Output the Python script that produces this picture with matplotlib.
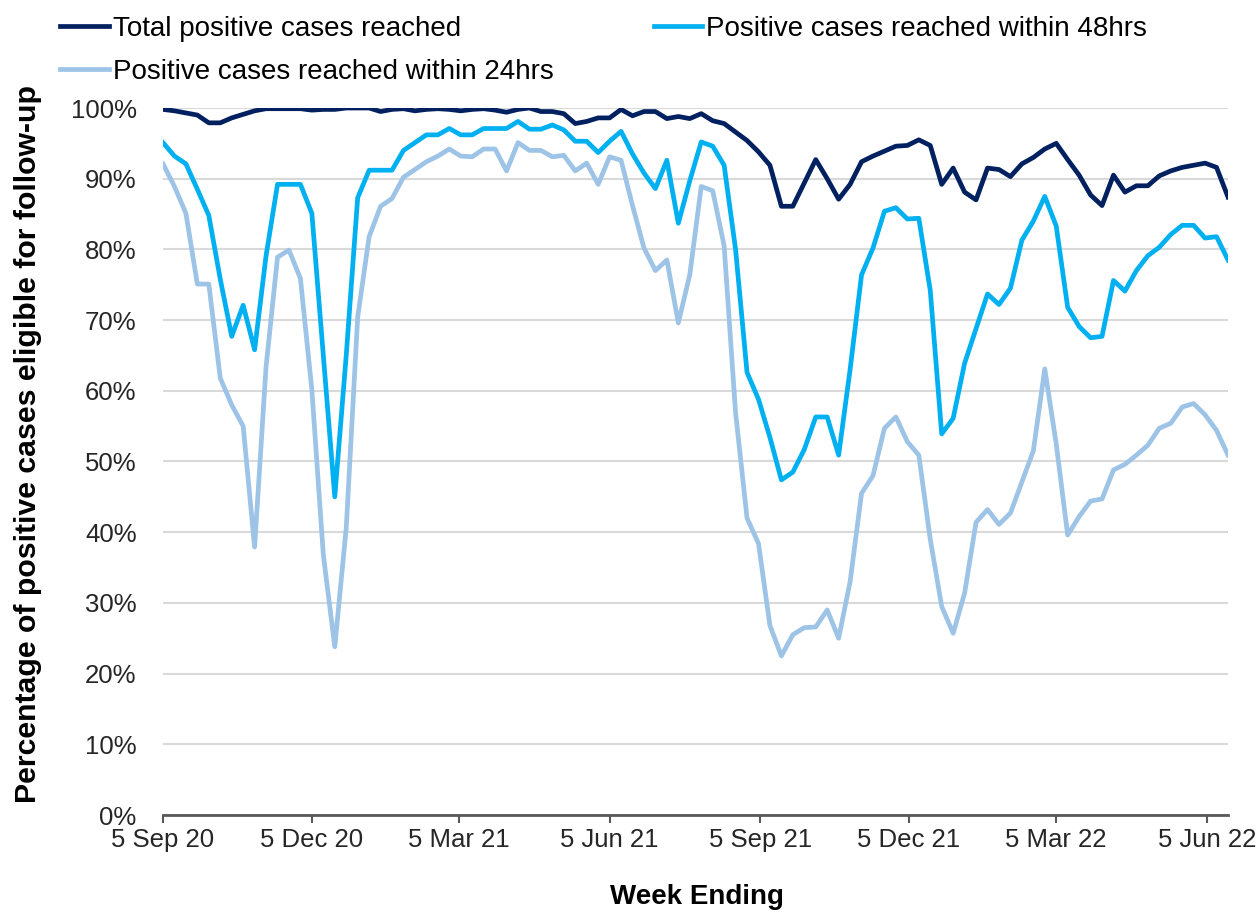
import matplotlib
matplotlib.use("Agg")
import matplotlib.pyplot as plt
import pandas as pd

plt.rcParams['font.family'] = ['Liberation Sans', 'DejaVu Sans']

# Weekly data, week ending 5 Sep 2020 onwards (percent)
weeks = pd.date_range('2020-09-05', periods=94, freq='7D')

total_reached = [
    99.8, 99.6, 99.3, 99.0, 97.9, 97.9, 98.6, 99.1, 99.6, 99.9,
    99.9, 99.9, 99.9, 99.7, 99.8, 99.8, 100, 100, 100, 99.5,
    99.8, 99.9, 99.6, 99.8, 99.9, 99.8, 99.6, 99.8, 99.9, 99.7,
    99.4, 99.8, 100, 99.5, 99.5, 99.2, 97.8, 98.1, 98.6, 98.6,
    99.8, 98.9, 99.5, 99.5, 98.5, 98.8, 98.5, 99.2, 98.2, 97.8,
    96.6, 95.4, 93.8, 91.9, 86.1, 86.1, 89.4, 92.7, 90.0, 87.1,
    89.2, 92.4, 93.2, 93.9, 94.6, 94.7, 95.5, 94.7, 89.2, 91.5,
    88.1, 87.0, 91.5, 91.3, 90.3, 92.1, 93.0, 94.2, 95.0, 92.7,
    90.5, 87.7, 86.2, 90.5, 88.1, 89.0, 89.0, 90.4, 91.1, 91.6,
    91.9, 92.2, 91.6, 87.4]

within_48 = [
    95.1, 93.2, 92.1, 88.5, 84.8, 75.8, 67.7, 72.1, 65.8, 79.1,
    89.2, 89.2, 89.2, 85.1, 65.0, 45.0, 65.0, 87.3, 91.2, 91.2,
    91.2, 94.0, 95.1, 96.2, 96.2, 97.1, 96.2, 96.2, 97.1, 97.1,
    97.1, 98.1, 97.0, 97.0, 97.6, 96.9, 95.3, 95.3, 93.7, 95.3,
    96.7, 93.5, 90.8, 88.6, 92.6, 83.7, 89.7, 95.2, 94.6, 91.9,
    80.0, 62.6, 58.8, 53.4, 47.4, 48.5, 51.7, 56.3, 56.3, 50.9,
    63.0, 76.4, 80.2, 85.4, 85.9, 84.3, 84.4, 74.2, 53.9, 56.1,
    63.9, 68.8, 73.7, 72.2, 74.5, 81.3, 84.0, 87.5, 83.3, 71.8,
    69.1, 67.5, 67.7, 75.6, 74.1, 77.0, 79.1, 80.3, 82.1, 83.4,
    83.4, 81.6, 81.8, 78.5]

within_24 = [
    92.1, 88.9, 85.1, 75.1, 75.1, 61.8, 58.0, 55.0, 37.9, 63.4,
    78.9, 79.9, 75.9, 60.1, 36.8, 23.8, 40.6, 70.4, 81.8, 86.1,
    87.2, 90.2, 91.3, 92.4, 93.2, 94.2, 93.2, 93.1, 94.2, 94.2,
    91.1, 95.1, 94.0, 94.0, 93.1, 93.3, 91.1, 92.2, 89.2, 93.1,
    92.6, 86.2, 80.2, 77.0, 78.5, 69.6, 76.4, 88.9, 88.3, 80.5,
    56.9, 42.0, 38.4, 26.8, 22.5, 25.5, 26.5, 26.6, 29.0, 25.0,
    33.0, 45.5, 48.0, 54.7, 56.3, 52.8, 50.9, 39.0, 29.5, 25.7,
    31.4, 41.4, 43.2, 41.1, 42.7, 47.1, 51.5, 63.1, 52.5, 39.6,
    42.2, 44.4, 44.7, 48.8, 49.6, 50.9, 52.3, 54.7, 55.4, 57.7,
    58.2, 56.6, 54.4, 50.9]

tick_dates = pd.to_datetime(['2020-09-05', '2020-12-05', '2021-03-05', '2021-06-05',
                             '2021-09-05', '2021-12-05', '2022-03-05', '2022-06-05'])
tick_labels = ['5 Sep 20', '5 Dec 20', '5 Mar 21', '5 Jun 21',
               '5 Sep 21', '5 Dec 21', '5 Mar 22', '5 Jun 22']
y_ticks = list(range(0, 101, 10))

COLORS = {'total': '#002060', 'h48': '#00B0F0', 'h24': '#9DC3E6'}

fig = plt.figure(figsize=(12.57, 9.13), dpi=100)
ax = fig.add_axes([163 / 1257, 1 - 815 / 913, (1228 - 163) / 1257, (815 - 108) / 913])

l_total, = ax.plot(weeks, total_reached, color=COLORS['total'], lw=3.4,
                   label='Total positive cases reached')
l_48, = ax.plot(weeks, within_48, color=COLORS['h48'], lw=3.4,
                label='Positive cases reached within 48hrs')
l_24, = ax.plot(weeks, within_24, color=COLORS['h24'], lw=3.4,
                label='Positive cases reached within 24hrs')

ax.set_xlim(weeks[0], weeks[-1])
ax.set_ylim(0, 100)
ax.set_yticks(y_ticks)
ax.set_yticklabels([f'{v}%' for v in y_ticks])
ax.set_xticks(tick_dates)
ax.set_xticklabels(tick_labels)

ax.yaxis.grid(True, color='#d9d9d9', lw=1.5)
ax.set_axisbelow(True)
for side in ['top', 'right', 'left']:
    ax.spines[side].set_visible(False)
ax.spines['bottom'].set_color('#595959')
ax.spines['bottom'].set_linewidth(2)

ax.tick_params(axis='y', length=0, pad=19, labelsize=18.5, labelcolor='#262626')
ax.tick_params(axis='x', length=6, width=1.5, color='#595959', pad=3,
               labelsize=18.5, labelcolor='#262626')

fig.text(28 / 1257, 1 - 444 / 913, 'Percentage of positive cases eligible for follow-up',
         rotation=90, ha='center', va='center', fontsize=21.8, fontweight='bold')
fig.text(697 / 1257, 1 - 897 / 913, 'Week Ending', ha='center', va='center',
         fontsize=20, fontweight='bold')

# column-wise fill: [Total, 24hrs] in col 1, [48hrs] in col 2
fig.legend(handles=[l_total, l_24, l_48], loc='upper left', ncol=2,
           bbox_to_anchor=(60 / 1257, 1 - 16 / 913), frameon=False,
           fontsize=20, handlelength=1.75, handletextpad=0.15,
           columnspacing=3.6, labelspacing=0.6, borderpad=0, borderaxespad=0)

plt.savefig('out.png', dpi=100)
